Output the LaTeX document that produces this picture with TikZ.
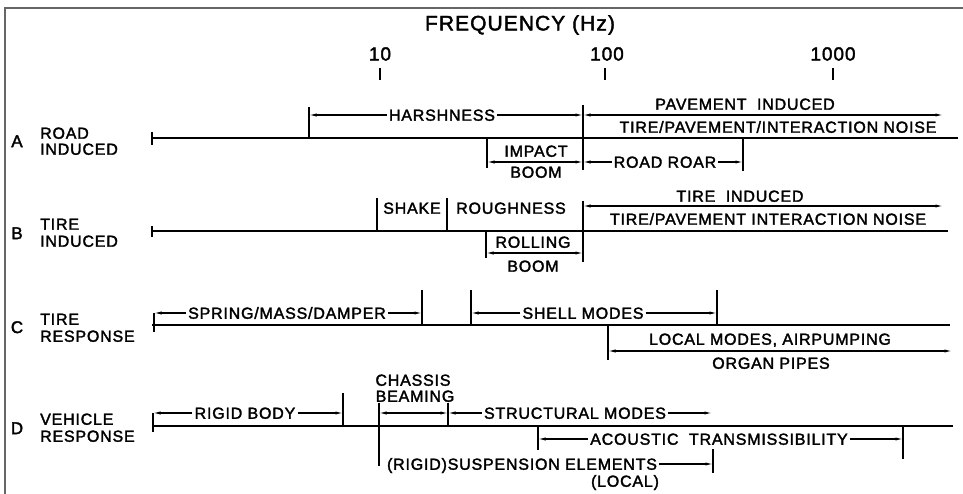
\documentclass[tikz,border=0pt]{standalone}
\usepackage{fontspec}
\setmainfont{Liberation Sans}[LetterSpace=5,FakeBold=2]
\usetikzlibrary{arrows.meta}
\begin{document}
\begin{tikzpicture}[x=1pt,y=-1pt,
  txt/.style={font=\fontsize{16}{16}\selectfont, text height=11.5pt, text depth=0pt, inner sep=2pt},
  rowlbl/.style={txt, anchor=west, inner sep=0pt},
  rowletter/.style={font=\fontsize{17}{17}\selectfont, text height=12.2pt, text depth=0pt, inner sep=0pt},
  axisline/.style={line width=1.8pt},
  bar/.style={line width=1.4pt},
  dimline/.style={line width=1.1pt},
  tip/.style={dimline, -{Latex[length=7.5pt,width=3.2pt]}},
  both/.style={dimline, {Latex[length=7.5pt,width=3.2pt]}-{Latex[length=7.5pt,width=3.2pt]}},
]
\useasboundingbox (0,0) rectangle (963,494);
\fill[white] (0,0) rectangle (963,494);
\draw[line width=2pt, black!60] (5,494) -- (5,8) -- (963,8);

% header
\node[font=\fontsize{21}{21}\selectfont, inner sep=0pt] (freq) at (520,25) {FREQUENCY (Hz)};
\node[font=\fontsize{19}{19}\selectfont, inner sep=0pt] (t10) at (380,54) {10};
\node[font=\fontsize{19}{19}\selectfont, inner sep=0pt] (t100) at (607,54) {100};
\node[font=\fontsize{19}{19}\selectfont, inner sep=0pt] (t1000) at (833,54) {1000};
\draw[bar] (380,68) -- (380,80);
\draw[bar] (605,68) -- (605,80);
\draw[bar] (833,68) -- (833,80);

% ---------------- Row A ----------------
\node[rowletter] (LA) at (17,141) {A};
\node[rowlbl] (LA1) at (40,133) {ROAD};
\node[rowlbl] (LA2) at (40,149) {INDUCED};
\coordinate (A0) at (152,138); \coordinate (A1) at (958,138);
\draw[axisline] (A0) -- (A1);
\draw[bar] (152,132) -- (152,145);
\draw[bar] (309,107) -- (309,138);
\draw[bar] (583,105) -- (583,170);
\draw[bar] (487,138) -- (487,168);
\draw[bar] (743,138) -- (743,171);
\node[txt] (hars) at (442,115) {HARSHNESS};
\coordinate (h1) at (309,115); \coordinate (h2) at (583,115);
\draw[tip] (hars.west) -- (h1);
\draw[tip] (hars.east) -- (h2);
\coordinate (p1) at (583,115); \coordinate (p2) at (943,115);
\draw[both] (p1) -- (p2);
\node[txt] (pav) at (745,104) {PAVEMENT\ \ INDUCED};
\node[txt] (tpin) at (778,127) {TIRE/PAVEMENT/INTERACTION NOISE};
\node[txt] (imp) at (536,151) {IMPACT};
\node[txt] (boomA) at (536,172) {BOOM};
\coordinate (ib1) at (487,162); \coordinate (ib2) at (583,162);
\draw[both] (ib1) -- (ib2);
\node[txt] (roar) at (665,162) {ROAD ROAR};
\coordinate (rr1) at (583,162); \coordinate (rr2) at (743,162);
\draw[tip] (roar.west) -- (rr1);
\draw[tip] (roar.east) -- (rr2);

% ---------------- Row B ----------------
\node[rowletter] (LB) at (17,233) {B};
\node[rowlbl] (LB1) at (40,224) {TIRE};
\node[rowlbl] (LB2) at (40,241) {INDUCED};
\coordinate (B0) at (152,231); \coordinate (B1) at (948,231);
\draw[axisline] (B0) -- (B1);
\draw[bar] (152,226) -- (152,237);
\draw[bar] (377,198) -- (377,231);
\draw[bar] (447,198) -- (447,231);
\draw[bar] (583,201) -- (583,262);
\draw[bar] (486,231) -- (486,258);
\node[txt] (shake) at (412,208) {SHAKE};
\node[txt] (rough) at (511,208) {ROUGHNESS};
\coordinate (ti1) at (583,206); \coordinate (ti2) at (943,206);
\draw[both] (ti1) -- (ti2);
\node[txt] (tind) at (740,196) {TIRE\ \ INDUCED};
\node[txt] (tpin2) at (768,219) {TIRE/PAVEMENT INTERACTION NOISE};
\node[txt] (roll) at (533,242) {ROLLING};
\node[txt] (boomB) at (533,266) {BOOM};
\coordinate (rb1) at (486,253); \coordinate (rb2) at (583,253);
\draw[both] (rb1) -- (rb2);

% ---------------- Row C ----------------
\node[rowletter] (LC) at (17,327) {C};
\node[rowlbl] (LC1) at (40,319) {TIRE};
\node[rowlbl] (LC2) at (40,336) {RESPONSE};
\coordinate (C0) at (152,325); \coordinate (C1) at (950,325);
\draw[axisline] (C0) -- (C1);
\draw[bar] (154,313) -- (154,332);
\draw[bar] (422,290) -- (422,325);
\draw[bar] (471,290) -- (471,325);
\draw[bar] (717,290) -- (717,325);
\draw[bar] (608,325) -- (608,360);
\node[txt] (spr) at (287,313) {SPRING/MASS/DAMPER};
\coordinate (sm1) at (154,313); \coordinate (sm2) at (422,313);
\draw[tip] (spr.west) -- (sm1);
\draw[tip] (spr.east) -- (sm2);
\node[txt] (shell) at (583,313) {SHELL MODES};
\coordinate (sh1) at (471,313); \coordinate (sh2) at (717,313);
\draw[tip] (shell.west) -- (sh1);
\draw[tip] (shell.east) -- (sh2);
\coordinate (lm1) at (608,351); \coordinate (lm2) at (952,351);
\draw[both] (lm1) -- (lm2);
\node[txt] (local) at (770,339) {LOCAL MODES, AIRPUMPING};
\node[txt] (organ) at (771,363) {ORGAN PIPES};

% ---------------- Row D ----------------
\node[rowletter] (LD) at (17,428) {D};
\node[rowlbl] (LD1) at (40,419) {VEHICLE};
\node[rowlbl] (LD2) at (40,436) {RESPONSE};
\coordinate (D0) at (152,426); \coordinate (D1) at (953,426);
\draw[axisline] (D0) -- (D1);
\draw[bar] (153,413) -- (153,432);
\draw[bar] (343,393) -- (343,426);
\draw[bar] (379,403) -- (379,466);
\draw[bar] (448,403) -- (448,426);
\draw[bar] (538,426) -- (538,450);
\draw[bar] (903,426) -- (903,459);
\draw[bar] (713,449) -- (713,473);
\node[txt] (rigid) at (245,413) {RIGID BODY};
\coordinate (rg1) at (153,413); \coordinate (rg2) at (343,413);
\draw[tip] (rigid.west) -- (rg1);
\draw[tip] (rigid.east) -- (rg2);
\node[txt] (chas) at (413,380) {CHASSIS};
\node[txt] (beam) at (415,396) {BEAMING};
\coordinate (cb1) at (379,413); \coordinate (cb2) at (448,413);
\draw[both] (cb1) -- (cb2);
\node[txt] (struct) at (575,413) {STRUCTURAL MODES};
\coordinate (st1) at (448,413); \coordinate (st2) at (712,413);
\draw[tip] (struct.west) -- (st1);
\draw[tip] (struct.east) -- (st2);
\node[txt] (acou) at (719,439) {ACOUSTIC\ \ TRANSMISSIBILITY};
\coordinate (ac1) at (538,439); \coordinate (ac2) at (903,439);
\draw[tip] (acou.west) -- (ac1);
\draw[tip] (acou.east) -- (ac2);
\node[txt] (susp) at (522,464) {(RIGID)SUSPENSION ELEMENTS};
\coordinate (su2) at (713,464);
\draw[tip] (susp.east) -- (su2);
\node[txt] (loc) at (625,481) {(LOCAL)};
\end{tikzpicture}
\end{document}
